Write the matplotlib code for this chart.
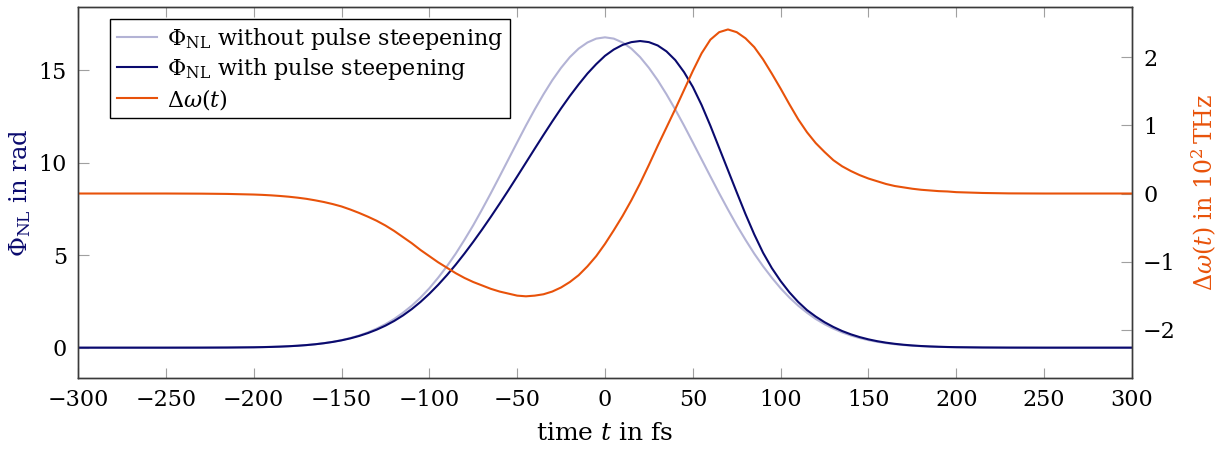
import numpy as np
import matplotlib
matplotlib.use("Agg")
import matplotlib.pyplot as plt

plt.rcParams['font.family'] = ['DejaVu Serif']
plt.rcParams['mathtext.fontset'] = 'dejavuserif'
plt.rcParams['font.size'] = 16

# sample times in fs (5 fs grid over the pulse, a few points in the flat wings)
t = [-300, -250, -230, -215] + list(range(-200, 205, 5)) + [215, 230, 250, 300]

# nonlinear phase, no self-steepening (symmetric pulse)
phi_plain = [0.0, 0.0, 0.002, 0.008,
    0.022, 0.031, 0.043, 0.059, 0.079, 0.106, 0.141, 0.186, 0.244, 0.316,
    0.407, 0.520, 0.657, 0.826, 1.03, 1.27, 1.55, 1.89, 2.27, 2.71,
    3.21, 3.78, 4.40, 5.08, 5.83, 6.62, 7.47, 8.35, 9.26, 10.18,
    11.10, 12.01, 12.88, 13.70, 14.46, 15.13, 15.71, 16.17, 16.50, 16.71,
    16.78,
    16.71, 16.50, 16.17, 15.71, 15.13, 14.46, 13.70, 12.88, 12.01, 11.10,
    10.18, 9.26, 8.35, 7.47, 6.62, 5.83, 5.08, 4.40, 3.78, 3.21,
    2.71, 2.27, 1.89, 1.55, 1.27, 1.03, 0.826, 0.657, 0.520, 0.407,
    0.316, 0.244, 0.186, 0.141, 0.106, 0.079, 0.059, 0.043, 0.031, 0.022,
    0.008, 0.002, 0.0, 0.0]

# nonlinear phase with self-steepening (peak pushed to later times)
phi_steep = [0.0, 0.0, 0.002, 0.007,
    0.020, 0.029, 0.041, 0.056, 0.077, 0.104, 0.139, 0.183, 0.240, 0.310,
    0.396, 0.502, 0.632, 0.788, 0.973, 1.19, 1.445, 1.743, 2.085, 2.475,
    2.913, 3.395, 3.92, 4.485, 5.088, 5.723, 6.385, 7.073, 7.783, 8.51,
    9.253, 10.005, 10.758, 11.503, 12.233, 12.938, 13.608, 14.233, 14.82, 15.33,
    15.78,
    16.12, 16.37, 16.52, 16.58, 16.52, 16.34, 16.02, 15.55, 14.90, 14.10,
    13.12, 12.00, 10.80, 9.60, 8.40, 7.22, 6.12, 5.13, 4.30, 3.60,
    2.99, 2.47, 2.03, 1.68, 1.376, 1.12, 0.90, 0.72, 0.571, 0.449,
    0.350, 0.271, 0.208, 0.158, 0.119, 0.089, 0.066, 0.049, 0.036, 0.026,
    0.010, 0.003, 0.0, 0.0]

# instantaneous frequency shift in 10^2 THz
dw = [0.0, 0.0, -0.002, -0.006,
    -0.015, -0.02, -0.027, -0.036, -0.047, -0.061, -0.078, -0.10, -0.125, -0.155,
    -0.19, -0.235, -0.285, -0.34, -0.40, -0.47, -0.55, -0.64, -0.73, -0.83,
    -0.92, -1.01, -1.09, -1.17, -1.24, -1.30, -1.35, -1.40, -1.44, -1.47,
    -1.50, -1.51, -1.50, -1.48, -1.44, -1.38, -1.30, -1.20, -1.07, -0.92,
    -0.74,
    -0.54, -0.33, -0.10, 0.15, 0.42, 0.70, 0.97, 1.24, 1.52, 1.80,
    2.06, 2.26, 2.37, 2.41, 2.37, 2.28, 2.15, 1.97, 1.76, 1.54,
    1.31, 1.09, 0.90, 0.74, 0.61, 0.49, 0.40, 0.33, 0.27, 0.22,
    0.18, 0.14, 0.11, 0.09, 0.07, 0.055, 0.045, 0.035, 0.03, 0.02,
    0.008, 0.002, 0.0, 0.0]

c_plain = '#b3b3d5'
c_steep = '#0a0a6e'
c_dw = '#e8520a'
c_frame = '#3a3a3a'
c_tick = '#a0a0a0'

fig = plt.figure(figsize=(12.19, 4.54), dpi=100)
ax1 = fig.add_axes([0.064, 0.1674, 0.8646, 0.8172])
ax2 = ax1.twinx()

l1, = ax1.plot(t, phi_plain, color=c_plain, lw=1.5)
l2, = ax1.plot(t, phi_steep, color=c_steep, lw=1.5)
l3, = ax2.plot(t, dw, color=c_dw, lw=1.5)

ax1.set_xlim(-300, 300)
ax1.set_ylim(-1.64, 18.42)
ax2.set_ylim(-2.71, 2.74)

ax1.set_xticks(range(-300, 301, 50))
ax1.set_yticks([0, 5, 10, 15])
ax2.set_yticks([-2, -1, 0, 1, 2])

ax1.tick_params(axis='x', direction='in', length=7, color=c_tick, top=True, pad=8)
ax1.tick_params(axis='y', direction='in', length=8, color=c_tick, pad=8)
ax2.tick_params(axis='y', direction='in', length=8, color=c_tick, pad=8)

for ax in (ax1, ax2):
    for s in ax.spines.values():
        s.set_color(c_frame)
        s.set_linewidth(1.0)

ax1.set_xlabel('time $t$ in fs', fontsize=18, labelpad=8)
ax1.set_ylabel(r'$\Phi_{\mathrm{NL}}$ in rad', color=c_steep, fontsize=17.5, labelpad=4)
ax2.set_ylabel(r'$\Delta\omega(t)$ in $10^2\,$THz', color=c_dw, fontsize=17, labelpad=10)

leg = ax2.legend([l1, l2, l3],
                 [r'$\Phi_{\mathrm{NL}}$ without pulse steepening',
                  r'$\Phi_{\mathrm{NL}}$ with pulse steepening',
                  r'$\Delta\omega(t)$'],
                 loc='upper left', bbox_to_anchor=(0.0304, 0.9677),
                 borderaxespad=0, fancybox=False, framealpha=1,
                 edgecolor='black', handlelength=1.8, handletextpad=0.45,
                 borderpad=0.3, labelspacing=0.2)
leg.get_frame().set_linewidth(1.0)

fig.savefig('out.png', dpi=100)
